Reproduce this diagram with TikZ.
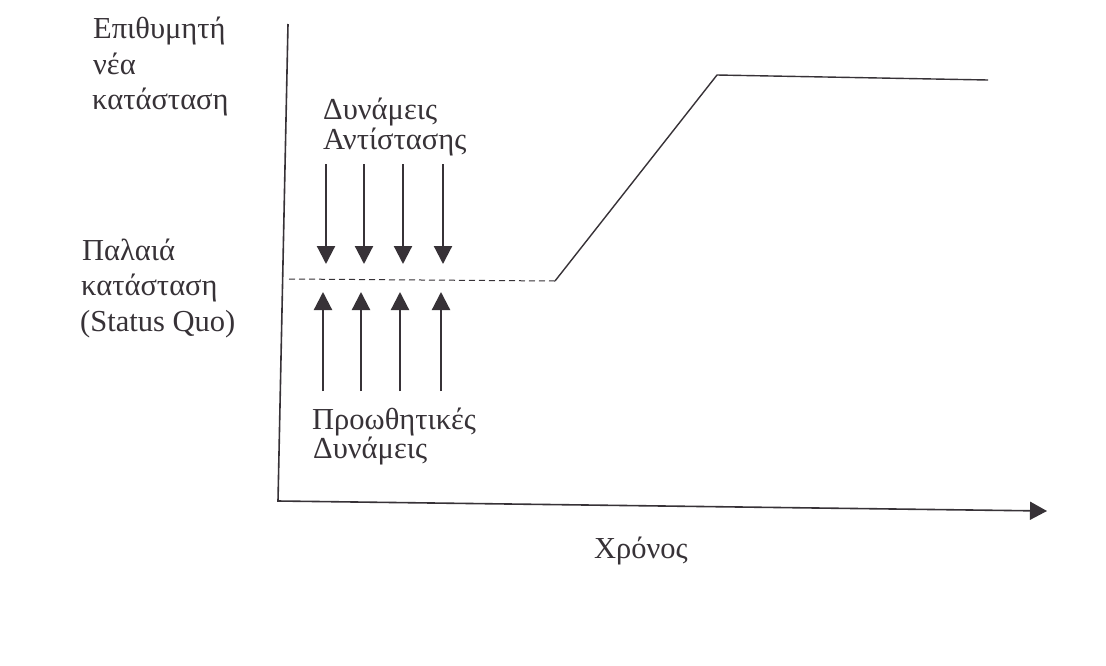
\documentclass[tikz,border=0pt]{standalone}
\usepackage{fontspec}
\setmainfont{Liberation Serif}
\usetikzlibrary{arrows.meta}
\definecolor{ink}{RGB}{55,50,55}
\begin{document}
\begin{tikzpicture}[x=1pt,y=-1pt,
  lbl/.style={inner sep=0pt, anchor=base west, text=ink, font=\fontsize{30.5}{36}\selectfont},
  axis/.style={draw=ink, line width=1.6pt},
  force/.style={draw=ink, line width=2.2pt, -{Triangle[width=18pt,length=18pt]}},
  trend/.style={draw=ink, line width=1.4pt},
  sq/.style={draw=ink, line width=1pt, dash pattern=on 6pt off 4pt}]
\useasboundingbox (0,0) rectangle (1106,665);
\fill[white] (0,0) rectangle (1106,665);
% axes
\coordinate (ytop) at (288,24);
\coordinate (origin) at (278,501);
\coordinate (xend) at (1047,511);
\draw[axis, -{Triangle[width=18pt,length=17pt]}] (ytop) -- (origin) -- (xend);
% labels
\node[lbl] (des1) at (93,38) {Επιθυμητή};
\node[lbl] (des2) at (93,74) {νέα};
\node[lbl] (des3) at (92,109) {κατάσταση};
\node[lbl] (old1) at (82,260) {Παλαιά};
\node[lbl] (old2) at (81,295) {κατάσταση};
\node[lbl] (old3) at (80,331) {(Status Quo)};
\node[lbl] (res1) at (323,119) {Δυνάμεις};
\node[lbl] (res2) at (323,149) {Αντίστασης};
\node[lbl] (drv1) at (312,429) {Προωθητικές};
\node[lbl] (drv2) at (313,458) {Δυνάμεις};
\node[lbl] (time) at (594,558) {Χρόνος};
% status quo and change path
\coordinate (sqL) at (289,279);
\coordinate (sqR) at (555,281);
\coordinate (peak) at (717,75);
\coordinate (fin) at (988,80);
\draw[sq] (sqL) -- (sqR);
\draw[trend] (sqR) -- (peak) -- (fin);
% forces
\foreach \i/\x in {1/326,2/364,3/403,4/443}{
  \coordinate (rs\i) at (\x,164);
  \coordinate (re\i) at (\x,264);
  \draw[force] (rs\i) -- (re\i);
}
\foreach \i/\x in {1/323,2/361,3/400,4/441}{
  \coordinate (ds\i) at (\x,391);
  \coordinate (de\i) at (\x,292);
  \draw[force] (ds\i) -- (de\i);
}
\end{tikzpicture}
\end{document}
